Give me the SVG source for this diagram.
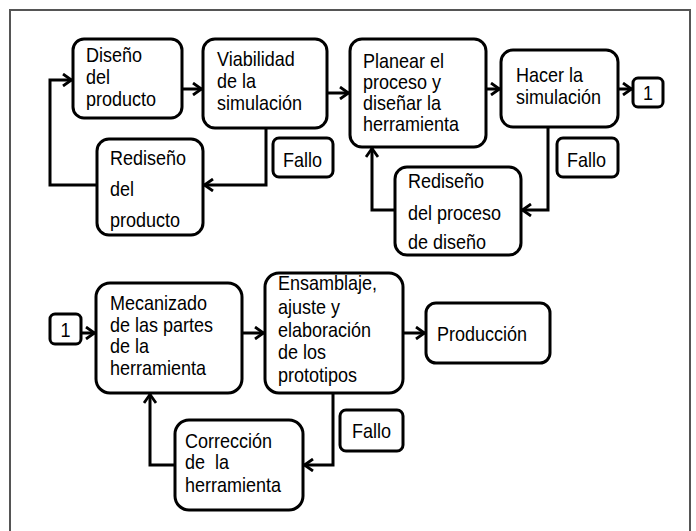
<svg xmlns="http://www.w3.org/2000/svg" width="696" height="531" viewBox="0 0 696 531">
<style>
.box{fill:#fff;stroke:#000;stroke-width:3;}
.t{font-family:"Liberation Sans",Arial,sans-serif;font-size:20px;fill:#000;white-space:pre;}
.c{fill:none;stroke:#000;stroke-width:3;marker-end:url(#ah);}
</style>
<defs>
<marker id="ah" markerUnits="userSpaceOnUse" viewBox="0 0 12 14" refX="10.5" refY="7" markerWidth="12" markerHeight="14" orient="auto">
<path d="M1.5,1 L10,7 L1.5,13" fill="none" stroke="#000" stroke-width="2.8"/>
</marker>
</defs>
<rect width="696" height="531" fill="#fff"/>
<rect x="10" y="10" width="680" height="540" fill="none" stroke="#555" stroke-width="2"/>
<g id="connectors">
<path class="c" d="M182,89 H202"/>
<path class="c" d="M327,93 H349"/>
<path class="c" d="M486,89 H500"/>
<path class="c" d="M618,89 H632"/>
<path class="c" d="M266,128 V185 H204"/>
<path class="c" d="M97,185 H50 V80 H72"/>
<path class="c" d="M548,127 V210 H522"/>
<path class="c" d="M395,210 H372 V148"/>
<path class="c" d="M81,333 H95"/>
<path class="c" d="M242,333 H264"/>
<path class="c" d="M403,333 H425"/>
<path class="c" d="M333,393 V465 H304"/>
<path class="c" d="M175,465 H150 V394"/>
</g>
<g id="diseno">
<rect class="box" x="73" y="39" width="109" height="79" rx="11"/>
<g transform="translate(86,0) scale(0.9,1)">
<text class="t" x="0" y="62">Diseño</text>
<text class="t" x="0" y="84">del</text>
<text class="t" x="0" y="106">producto</text>
</g>
</g>
<g id="viabilidad">
<rect class="box" x="203" y="39" width="124" height="89" rx="12"/>
<g transform="translate(217,0) scale(0.9,1)">
<text class="t" x="0" y="66">Viabilidad</text>
<text class="t" x="0" y="88">de la</text>
<text class="t" x="0" y="110">simulación</text>
</g>
</g>
<g id="planear">
<rect class="box" x="350" y="39" width="136" height="108" rx="12"/>
<g transform="translate(363,0) scale(0.9,1)">
<text class="t" x="0" y="68">Planear el</text>
<text class="t" x="0" y="89">proceso y</text>
<text class="t" x="0" y="110">diseñar la</text>
<text class="t" x="0" y="131">herramienta</text>
</g>
</g>
<g id="hacer">
<rect class="box" x="501" y="50" width="117" height="77" rx="12"/>
<g transform="translate(516,0) scale(0.9,1)">
<text class="t" x="0" y="82">Hacer la</text>
<text class="t" x="0" y="104">simulación</text>
</g>
</g>
<g id="uno-a">
<rect class="box" x="633" y="78" width="30" height="29" rx="5"/>
<g transform="translate(648,0) scale(0.9,1)">
<text class="t" x="0" y="100" text-anchor="middle" fill="#3a0a0a">1</text>
</g>
</g>
<g id="fallo1">
<rect class="box" x="273" y="138" width="60" height="39" rx="6"/>
<g transform="translate(283,0) scale(0.9,1)">
<text class="t" x="0" y="167">Fallo</text>
</g>
</g>
<g id="fallo2">
<rect class="box" x="557" y="138" width="61" height="39" rx="6"/>
<g transform="translate(567,0) scale(0.9,1)">
<text class="t" x="0" y="167">Fallo</text>
</g>
</g>
<g id="rediseno-producto">
<rect class="box" x="97" y="139" width="106" height="96" rx="12"/>
<g transform="translate(110,0) scale(0.9,1)">
<text class="t" x="0" y="165">Rediseño</text>
<text class="t" x="0" y="196">del</text>
<text class="t" x="0" y="227">producto</text>
</g>
</g>
<g id="rediseno-proceso">
<rect class="box" x="395" y="167" width="126" height="88" rx="12"/>
<g transform="translate(408,0) scale(0.9,1)">
<text class="t" x="0" y="188">Rediseño</text>
<text class="t" x="0" y="220">del proceso</text>
<text class="t" x="0" y="249">de diseño</text>
</g>
</g>
<g id="uno-b">
<rect class="box" x="50" y="314" width="31" height="30" rx="5"/>
<g transform="translate(65.5,0) scale(0.9,1)">
<text class="t" x="0" y="337" text-anchor="middle">1</text>
</g>
</g>
<g id="mecanizado">
<rect class="box" x="96" y="283" width="146" height="110" rx="14"/>
<g transform="translate(110,0) scale(0.9,1)">
<text class="t" x="0" y="310">Mecanizado</text>
<text class="t" x="0" y="332">de las partes</text>
<text class="t" x="0" y="353">de la</text>
<text class="t" x="0" y="375">herramienta</text>
</g>
</g>
<g id="ensamblaje">
<rect class="box" x="265" y="273" width="138" height="120" rx="14"/>
<g transform="translate(278,0) scale(0.9,1)">
<text class="t" x="0" y="290">Ensamblaje,</text>
<text class="t" x="0" y="314">ajuste y</text>
<text class="t" x="0" y="337">elaboración</text>
<text class="t" x="0" y="359">de los</text>
<text class="t" x="0" y="382">prototipos</text>
</g>
</g>
<g id="produccion">
<rect class="box" x="426" y="303" width="124" height="60" rx="10"/>
<g transform="translate(437,0) scale(0.9,1)">
<text class="t" x="0" y="341">Producción</text>
</g>
</g>
<g id="fallo3">
<rect class="box" x="340" y="410" width="63" height="41" rx="6"/>
<g transform="translate(352,0) scale(0.9,1)">
<text class="t" x="0" y="438">Fallo</text>
</g>
</g>
<g id="correccion">
<rect class="box" x="175" y="420" width="128" height="90" rx="14"/>
<g transform="translate(185,0) scale(0.9,1)">
<text class="t" x="0" y="448">Corrección</text>
<text class="t" x="0" y="469">de  la</text>
<text class="t" x="0" y="492">herramienta</text>
</g>
</g>
</svg>
